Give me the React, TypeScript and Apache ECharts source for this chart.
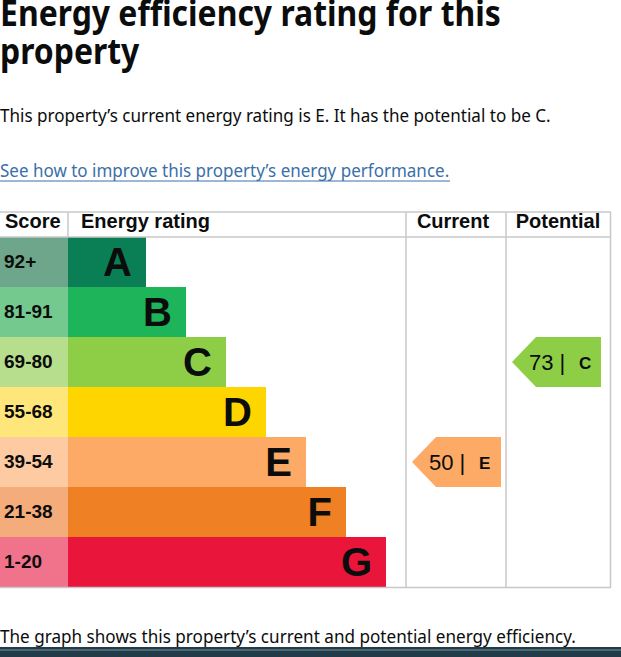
import { useEffect, useRef } from "react";
import * as echarts from "echarts";

// EPC bands, top (best) to bottom (worst)
const BANDS = ["A", "B", "C", "D", "E", "F", "G"];
const SCORE_RANGES = ["92+", "81-91", "69-80", "55-68", "39-54", "21-38", "1-20"];
const BAND_LENGTH = [2, 3, 4, 5, 6, 7, 8]; // relative bar length per band
const BAND_COLORS = ["#0a7f55", "#1db45a", "#8dce46", "#ffd500", "#fcaa65", "#ef8023", "#e9153b"];
const SCORE_COLORS = ["#6ea68b", "#74c98e", "#b6de8c", "#ffe67a", "#fecaa2", "#f4ac7a", "#f1738b"];
const COLUMNS = ["Current", "Potential"];
const CURRENT_SCORE = 50;
const CURRENT_BAND = "E";
const POTENTIAL_SCORE = 73;
const POTENTIAL_BAND = "C";

const TITLE_LINES = ["Energy efficiency rating for this", "property"];
const SUMMARY = "This property\u2019s current energy rating is E. It has the potential to be C.";
const LINK_TEXT = "See how to improve this property\u2019s energy performance.";
const FOOTNOTE = "The graph shows this property\u2019s current and potential energy efficiency.";

const INK = "#0b0c0c";
const LINK = "#3a6fa8";
const RULE = "#c8c8c8";
const SANS = "'Noto Sans', sans-serif";
const ARIAL = "'Liberation Sans', Arial, sans-serif";

// canvas measurement, used to squeeze body text to the width of the original typeface
function measure(text: string, font: string): number {
  const ctx = document.createElement("canvas").getContext("2d");
  if (!ctx) return 1;
  ctx.font = font;
  return ctx.measureText(text).width || 1;
}

export default function App() {
  const elRef = useRef<HTMLDivElement>(null);

  useEffect(() => {
    const el = elRef.current;
    if (!el) return;
    const chart = echarts.init(el, undefined, { renderer: "svg" });

    const titleScale = 501 / measure(TITLE_LINES[0], `bold 36px ${SANS}`);
    const bodyScale = 551 / measure(SUMMARY, `19px ${SANS}`);
    const linkScale = 450 / measure(LINK_TEXT, `19px ${SANS}`);
    const footScale = 576 / measure(FOOTNOTE, `19px ${SANS}`);

    const markers = [
      [0, BANDS.indexOf(CURRENT_BAND), CURRENT_SCORE],
      [1, BANDS.indexOf(POTENTIAL_BAND), POTENTIAL_SCORE],
    ];

    const hLine = (x1: number, x2: number, y: number) => ({
      type: "line",
      shape: { x1, y1: y, x2, y2: y },
      style: { stroke: RULE, lineWidth: 1.5 },
      z: 10,
    });
    const vLine = (x: number, y1: number, y2: number) => ({
      type: "line",
      shape: { x1: x, y1, x2: x, y2 },
      style: { stroke: RULE, lineWidth: 1.5 },
      z: 10,
    });
    const text = (t: string, x: number, y: number, font: Record<string, unknown>, extra: Record<string, unknown> = {}) => ({
      type: "text",
      x,
      y,
      ...extra,
      style: { text: t, fill: INK, verticalAlign: "middle", ...font },
      z: 20,
    });

    chart.setOption({
      animation: false,
      backgroundColor: "#ffffff",
      grid: [
        { left: 0, top: 237, width: 68, height: 350 },
        { left: 68, top: 237, width: 338, height: 350 },
        { left: 406, top: 237, width: 200, height: 350 },
      ],
      xAxis: [
        { type: "value", gridIndex: 0, min: 0, max: 1, show: false },
        { type: "value", gridIndex: 1, min: 0.05, max: 8.5, show: false },
        { type: "category", gridIndex: 2, data: COLUMNS, show: false },
      ],
      yAxis: [0, 1, 2].map((g) => ({ type: "category", gridIndex: g, data: BANDS, inverse: true, show: false })),
      series: [
        {
          type: "bar",
          xAxisIndex: 0,
          yAxisIndex: 0,
          barCategoryGap: "0%",
          data: SCORE_RANGES.map((_, i) => ({ value: 1, itemStyle: { color: SCORE_COLORS[i] } })),
          label: {
            show: true,
            position: "insideLeft",
            distance: 4,
            offset: [0, -1],
            formatter: (p: { dataIndex: number }) => SCORE_RANGES[p.dataIndex],
            color: INK,
            fontFamily: ARIAL,
            fontWeight: "bold",
            fontSize: 19,
          },
        },
        {
          type: "bar",
          xAxisIndex: 1,
          yAxisIndex: 1,
          barCategoryGap: "0%",
          data: BAND_LENGTH.map((v, i) => ({ value: v, itemStyle: { color: BAND_COLORS[i] } })),
          label: {
            show: true,
            position: "insideRight",
            distance: 14,
            formatter: "{b}",
            color: INK,
            fontFamily: ARIAL,
            fontWeight: "bold",
            fontSize: 40,
          },
        },
        {
          type: "custom",
          xAxisIndex: 2,
          yAxisIndex: 2,
          data: markers,
          renderItem: (_params: unknown, api: any) => {
            const band = api.value(1);
            const c = api.coord([api.value(0), band]);
            const size = api.size([1, 1]);
            const left = c[0] - size[0] / 2 + 6;
            const top = c[1] - size[1] / 2;
            const h = size[1];
            const w = 89;
            const tip = 24;
            return {
              type: "group",
              children: [
                {
                  type: "polygon",
                  shape: {
                    points: [
                      [left, c[1]],
                      [left + tip, top],
                      [left + w, top],
                      [left + w, top + h],
                      [left + tip, top + h],
                    ],
                  },
                  style: { fill: BAND_COLORS[band] },
                },
                {
                  type: "text",
                  x: left + 17,
                  y: c[1],
                  style: { text: `${api.value(2)} |`, fill: INK, fontFamily: ARIAL, fontSize: 22, verticalAlign: "middle" },
                },
                {
                  type: "text",
                  x: left + 67,
                  y: c[1] + 1,
                  style: { text: BANDS[band], fill: INK, fontFamily: ARIAL, fontWeight: "bold", fontSize: 17, verticalAlign: "middle" },
                },
              ],
            };
          },
        },
      ],
      graphic: [
        text(TITLE_LINES[0], 0, 12, { fontFamily: SANS, fontWeight: "bold", fontSize: 36, lineHeight: 24 }, { scaleX: titleScale }),
        text(TITLE_LINES[1], 0, 50, { fontFamily: SANS, fontWeight: "bold", fontSize: 36, lineHeight: 24 }, { scaleX: titleScale }),
        text(SUMMARY, 0, 115, { fontFamily: SANS, fontSize: 19 }, { scaleX: bodyScale }),
        text(LINK_TEXT, 0, 170, { fontFamily: SANS, fontSize: 19, fill: LINK }, { scaleX: linkScale }),
        { type: "line", shape: { x1: 0, y1: 181, x2: 450, y2: 181 }, style: { stroke: LINK, lineWidth: 1 }, z: 20 },
        text("Score", 5, 221, { fontFamily: ARIAL, fontWeight: "bold", fontSize: 20 }),
        text("Energy rating", 81, 221, { fontFamily: ARIAL, fontWeight: "bold", fontSize: 20 }),
        text(COLUMNS[0], 453, 221, { fontFamily: ARIAL, fontWeight: "bold", fontSize: 20, align: "center" }),
        text(COLUMNS[1], 558, 221, { fontFamily: ARIAL, fontWeight: "bold", fontSize: 20, align: "center" }),
        hLine(0, 611, 212),
        hLine(0, 611, 237),
        hLine(0, 611, 587.5),
        vLine(68, 212, 237),
        vLine(406, 212, 588),
        vLine(506, 212, 588),
        vLine(610.5, 212, 588),
        text(FOOTNOTE, 0, 636, { fontFamily: SANS, fontSize: 19 }, { scaleX: footScale }),
        { type: "rect", shape: { x: 0, y: 647, width: 621, height: 10 }, style: { fill: "#213b49" }, z: 5 },
        { type: "line", shape: { x1: 0, y1: 650, x2: 621, y2: 650 }, style: { stroke: "#7f939d", lineWidth: 1 }, z: 6 },
      ],
    });

    return () => chart.dispose();
  }, []);

  return <div ref={elRef} style={{ position: "absolute", left: 0, top: 0, width: 621, height: 657 }} />;
}
